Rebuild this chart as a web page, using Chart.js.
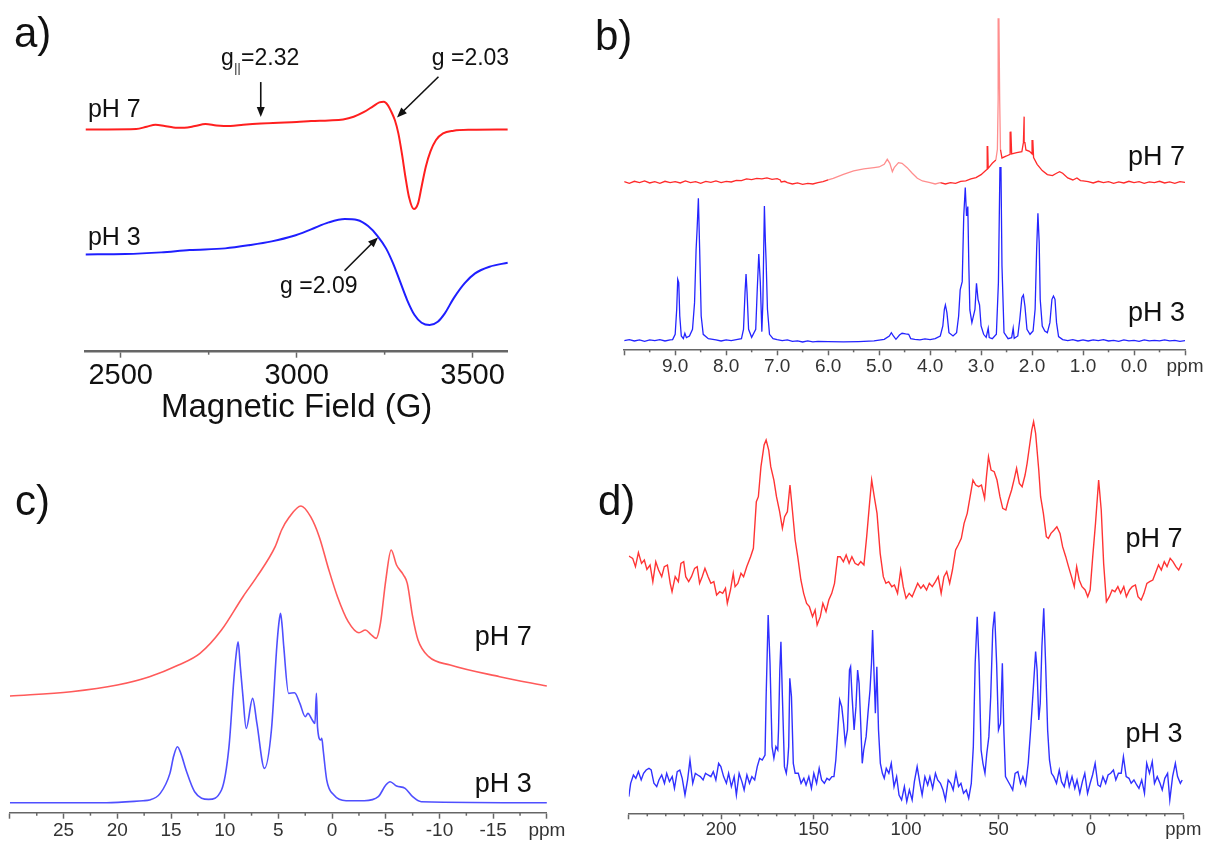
<!DOCTYPE html>
<html><head><meta charset="utf-8">
<script src="https://cdn.jsdelivr.net/npm/chart.js@4.4.0/dist/chart.umd.min.js"></script>
<style>
html,body{margin:0;padding:0;background:#fff;}
#wrap{position:relative;width:1207px;height:845px;overflow:hidden;background:#fff;}
canvas{position:absolute;left:0;top:0;}
</style></head><body><div id="wrap">
<canvas id="ca" width="1207" height="845"></canvas>
<canvas id="cb" width="1207" height="845"></canvas>
<canvas id="cc" width="1207" height="845"></canvas>
<canvas id="cd" width="1207" height="845"></canvas>
</div>
<script>
// ---------- DATA ----------
// a) EPR spectra: [field (G), intensity (a.u.)]
const epr_pH7 = [[2400,66.7],[2462,66.7],[2544,66.8],[2574,67.5],[2599,68.1],[2625,67.7],[2650,67.3],[2681,67.2],[2711,67.7],[2741,68.3],[2772,67.9],[2812,67.7],[2848,68.1],[2899,68.5],[2949,68.7],[3000,68.9],[3041,69.2],[3091,69.4],[3132,69.7],[3162,70.5],[3193,72.0],[3218,73.7],[3235,74.8],[3248,75.0],[3259,74.0],[3269,72.0],[3279,69.5],[3289,65.5],[3299,59.5],[3309,52.5],[3319,46.5],[3333,42.8],[3345,44.5],[3355,49.5],[3367,55.5],[3380,60.0],[3396,63.5],[3416,65.5],[3446,66.3],[3497,66.6],[3600,66.7]];
const epr_pH3 = [[2400,29.2],[2513,29.3],[2615,29.8],[2696,30.5],[2797,31.0],[2868,32.0],[2929,33.1],[2990,34.7],[3041,36.7],[3091,38.8],[3137,39.8],[3172,39.5],[3203,37.7],[3230,34.7],[3254,31.0],[3274,26.5],[3294,21.0],[3314,15.5],[3335,11.0],[3355,8.7],[3378,8.0],[3401,9.0],[3421,11.5],[3446,16.0],[3477,20.5],[3507,23.5],[3548,25.5],[3600,26.7]];
const eprMajorTicks = [2500,3000,3500];
const eprMinorTicks = [2750,3250];

// b) 1H NMR: [ppm, intensity]
const h1_pH7 = [[10.0,50.3],[9.9,49.8],[9.8,50.4],[9.7,50.0],[9.6,50.5],[9.5,49.9],[9.4,50.3],[9.3,49.8],[9.2,50.4],[9.1,50.0],[9.0,50.3],[8.9,49.9],[8.8,50.5],[8.7,50.0],[8.6,50.3],[8.5,49.8],[8.4,50.4],[8.3,50.1],[8.2,50.5],[8.1,50.0],[8.0,50.4],[7.9,50.2],[7.8,50.7],[7.7,50.6],[7.6,51.1],[7.5,50.9],[7.4,51.3],[7.3,51.1],[7.2,51.4],[7.1,51.0],[7.0,51.2],[6.94,50.8],[6.92,50.2],[6.85,50.4],[6.8,50.0],[6.7,49.6],[6.6,49.9],[6.5,49.5],[6.4,49.8],[6.3,49.6],[6.2,50.0],[6.1,50.3],[6.0,50.8],[5.9,51.3],[5.7,52.5],[5.5,53.5],[5.3,54.1],[5.1,54.5],[5.0,54.7],[4.9,55.5],[4.84,57.0],[4.79,55.8],[4.74,53.3],[4.7,54.6],[4.62,56.0],[4.55,55.8],[4.45,54.5],[4.35,52.8],[4.25,51.3],[4.15,50.5],[4.0,50.0],[3.9,49.6],[3.8,50.0],[3.7,49.6],[3.6,50.0],[3.5,49.8],[3.4,50.4],[3.3,50.5],[3.2,51.1],[3.1,51.5],[3.0,52.4],[2.92,53.5],[2.88,54.0],[2.87,61.0],[2.86,54.3],[2.78,55.8],[2.71,56.8],[2.68,60],[2.665,75],[2.65,99.3],[2.635,75],[2.62,60],[2.59,57.4],[2.5,58.0],[2.43,58.5],[2.415,65.3],[2.40,58.6],[2.3,59.0],[2.2,59.3],[2.17,62],[2.155,69.8],[2.14,62],[2.12,59.8],[2.05,59.4],[2.0,58.6],[1.985,62.8],[1.97,57.5],[1.9,55.5],[1.8,53.6],[1.7,52.4],[1.6,52.1],[1.52,52.8],[1.46,53.3],[1.4,52.8],[1.3,51.4],[1.2,50.8],[1.12,51.4],[1.05,50.6],[1.0,50.5],[0.9,50.3],[0.8,49.9],[0.7,50.4],[0.6,50.0],[0.5,50.3],[0.4,49.8],[0.3,50.2],[0.2,49.9],[0.1,50.4],[0.0,50.0],[-0.1,50.3],[-0.2,49.8],[-0.3,50.2],[-0.4,50.0],[-0.5,50.4],[-0.6,49.9],[-0.7,50.2],[-0.8,49.8],[-0.9,50.3],[-1.0,50.1]];
const h1_pH3 = [[10.0,2.6],[9.9,2.9],[9.8,2.5],[9.7,2.8],[9.6,2.4],[9.5,2.8],[9.4,2.6],[9.3,2.9],[9.2,2.5],[9.1,2.8],[9.05,2.9],[9.0,4.5],[8.97,12],[8.95,21],[8.93,20],[8.91,10],[8.88,4],[8.84,3.2],[8.81,4.8],[8.78,3.5],[8.72,4.0],[8.66,6],[8.62,14],[8.59,29.8],[8.57,36],[8.545,45.3],[8.52,30],[8.49,10],[8.45,4.5],[8.35,3.2],[8.2,2.8],[8.1,2.5],[8.0,2.8],[7.9,2.6],[7.8,2.9],[7.7,3.2],[7.66,6],[7.63,17],[7.61,22.6],[7.59,17],[7.56,6],[7.5,3.6],[7.42,6],[7.39,18],[7.36,28.6],[7.33,20],[7.30,5.3],[7.28,14],[7.25,43],[7.23,32],[7.215,25.8],[7.19,12],[7.15,4.5],[7.08,3.2],[7.0,2.9],[6.9,2.6],[6.8,2.8],[6.7,2.4],[6.6,2.5],[6.5,2.2],[6.4,2.5],[6.3,2.2],[6.2,2.4],[6.0,2.3],[5.7,2.2],[5.4,2.3],[5.1,2.5],[4.9,3.0],[4.8,4.0],[4.76,5.0],[4.72,4.0],[4.67,3.0],[4.6,4.3],[4.55,4.8],[4.48,4.6],[4.42,4.5],[4.38,3.2],[4.3,3.0],[4.2,2.8],[4.1,3.1],[4.0,2.9],[3.9,3.2],[3.8,4.0],[3.75,7],[3.72,12],[3.70,13.3],[3.67,11],[3.63,5],[3.55,4.0],[3.48,5],[3.44,10],[3.41,17.8],[3.37,20.3],[3.34,40],[3.31,48.5],[3.285,40],[3.26,42.8],[3.24,25],[3.22,11.8],[3.18,8],[3.12,12],[3.09,19.8],[3.06,15],[3.03,13.3],[3.0,7],[2.95,4.5],[2.9,3.6],[2.86,6.3],[2.84,3.5],[2.78,3.2],[2.7,4.5],[2.66,20],[2.63,54.5],[2.61,54.5],[2.59,25],[2.55,5],[2.47,3.2],[2.4,3.5],[2.37,6.3],[2.35,3.3],[2.28,4.0],[2.24,9],[2.20,15.5],[2.17,16.3],[2.14,13],[2.10,6],[2.04,4.5],[1.98,5.5],[1.94,12],[1.91,30],[1.885,40.8],[1.86,32],[1.84,15],[1.8,7],[1.75,5.5],[1.7,5.0],[1.65,8],[1.61,15],[1.58,16],[1.55,15],[1.52,8],[1.48,3.8],[1.4,2.9],[1.3,2.6],[1.2,2.9],[1.1,2.5],[1.0,2.8],[0.9,2.5],[0.8,2.8],[0.7,2.6],[0.6,2.9],[0.5,2.5],[0.4,2.7],[0.3,2.4],[0.2,2.8],[0.1,2.5],[0.0,2.7],[-0.1,2.4],[-0.2,2.8],[-0.3,2.5],[-0.4,2.7],[-0.5,2.5],[-0.6,2.8],[-0.7,2.5],[-0.8,2.7],[-0.9,2.4],[-1.0,2.6]];
const h1MajorTicks = [10,9,8,7,6,5,4,3,2,1,0,-1];
const h1MinorTicks = [9.5,8.5,7.5,6.5,5.5,4.5,3.5,2.5,1.5,0.5,-0.5];

// c) NMR: [ppm, intensity]
const nmrC_pH7 = [[30,35.0],[24.3,36.3],[20,38.3],[17,40.8],[14.3,44.3],[12.3,47.8],[10.3,54.8],[8.3,64.8],[7.0,70.8],[5.3,79.8],[4.7,84.8],[4.0,88.6],[2.9,92.0],[2.0,88.8],[1.2,82.8],[0.3,72.8],[-0.5,64.8],[-1.5,57.3],[-2.5,54.0],[-3.1,54.8],[-3.6,53.5],[-4.1,52.3],[-4.5,56.8],[-5.0,69.8],[-5.5,78.8],[-6.0,74.3],[-6.65,71.3],[-7.0,68.8],[-7.5,58.8],[-8.0,51.8],[-9.0,46.8],[-11.0,44.3],[-15.6,40.8],[-20,38.0]];
const nmrC_pH3 = [[30,3.0],[21,3.0],[17.6,3.6],[17,3.8],[16,5.8],[15.1,11.8],[14.75,17.0],[14.4,19.8],[14.05,17.5],[13.6,12.8],[12.8,6.3],[11.5,4.0],[10.3,6.8],[9.6,19.8],[9.15,39.8],[8.95,47],[8.75,51.3],[8.55,44],[8.3,34.8],[8.0,25.3],[7.4,34.3],[7.0,26.8],[6.3,13.3],[5.65,24.8],[5.15,49.8],[4.95,57],[4.8,59.8],[4.65,56],[4.5,49.8],[4.05,35.8],[3.5,36.0],[3.0,32.8],[2.5,28.8],[2.25,29.8],[1.85,27.8],[1.6,26.8],[1.46,35.8],[1.36,25.8],[1.06,21.8],[0.96,22.3],[0.83,18.8],[0.5,9.8],[-0.17,5.3],[-1.3,3.6],[-3,3.6],[-4.3,4.8],[-5.0,8.3],[-5.4,9.3],[-6.0,8.0],[-6.8,7.3],[-7.5,4.8],[-8.3,3.3],[-20,3.0]];
const nmrCMajorTicks = [30,25,20,15,10,5,0,-5,-10,-15,-20];
const nmrCMinorTicks = [27.5,22.5,17.5,12.5,7.5,2.5,-2.5,-7.5,-12.5,-17.5];

// d) NMR: [ppm, intensity]
const nmrD_pH7 = [[250.0,77.2],[247.9,76.5],[246.4,74.0],[244.8,78.2],[243.1,75.0],[241.6,76.0],[240.2,73.2],[238.5,74.5],[237.0,69.5],[235.4,75.5],[233.9,73.0],[232.2,71.0],[230.8,74.0],[229.1,74.5],[227.6,69.0],[226.6,66.5],[224.9,71.0],[223.2,69.5],[221.8,75.0],[220.3,75.5],[219.2,71.0],[217.6,69.5],[216.1,71.0],[214.4,73.5],[213.0,74.0],[211.7,69.0],[210.3,71.0],[208.8,73.5],[207.1,71.0],[205.6,69.0],[204.0,69.5],[202.5,65.5],[200.8,66.5],[199.2,66.0],[197.7,67.5],[196.7,63.0],[195.0,67.0],[193.5,72.0],[192.5,68.0],[191.0,69.0],[189.3,72.0],[187.9,71.0],[186.2,74.0],[184.1,77.0],[182.6,79.5],[181.0,93.5],[179.9,95.0],[178.5,104.0],[176.8,110.5],[175.7,112.0],[174.3,109.0],[173.2,104.0],[171.5,100.0],[170.1,95.0],[168.4,90.5],[166.9,85.5],[165.7,89.0],[164.2,90.5],[162.8,98.5],[161.5,91.0],[160.0,82.0],[158.6,77.0],[156.9,70.0],[155.4,66.0],[153.8,63.0],[152.3,62.0],[150.6,59.0],[149.2,61.0],[148.1,56.5],[146.4,59.0],[145.0,63.0],[143.3,60.5],[141.8,64.0],[140.2,66.0],[138.7,69.0],[137.0,77.0],[135.6,77.0],[133.9,75.5],[132.4,77.5],[130.8,75.0],[129.3,77.0],[127.6,75.0],[125.9,74.5],[124.5,75.5],[122.8,74.5],[121.3,83.0],[119.9,92.0],[118.6,100.0],[117.2,95.0],[115.7,90.0],[114.0,78.0],[112.3,71.0],[110.9,69.0],[109.4,69.5],[107.7,68.0],[106.3,68.5],[104.6,66.0],[102.9,73.0],[101.5,68.0],[100.0,64.5],[98.3,66.0],[96.7,65.0],[95.2,67.0],[93.7,69.0],[92.0,67.5],[90.6,68.5],[88.9,67.0],[87.4,69.0],[85.8,68.0],[84.1,69.5],[82.6,71.0],[81.0,66.0],[79.5,71.0],[78.0,72.5],[76.4,69.0],[74.9,73.0],[73.2,79.0],[71.8,80.5],[70.1,82.5],[68.6,87.0],[66.9,90.0],[65.5,94.5],[63.8,100.0],[62.3,98.5],[60.7,98.0],[59.2,98.5],[57.5,94.5],[56.5,101.0],[55.4,107.0],[54.0,103.0],[52.3,102.5],[50.8,100.0],[49.2,95.0],[47.7,91.5],[46.0,91.0],[44.6,94.0],[42.9,97.0],[41.4,100.5],[40.2,103.5],[38.7,99.0],[37.2,98.0],[35.6,101.5],[34.5,105.0],[33.5,109.0],[32.0,115.0],[31.0,117.5],[29.9,114.0],[28.2,103.0],[27.2,95.0],[25.7,90.0],[24.1,83.0],[23.0,82.5],[21.6,84.0],[19.9,85.0],[18.4,86.0],[16.7,84.0],[15.3,80.0],[13.6,77.0],[12.1,74.0],[10.5,71.0],[9.0,68.0],[7.7,74.0],[6.3,70.0],[4.8,68.0],[3.1,67.0],[1.7,65.0],[0.4,67.0],[-1.0,77.0],[-2.5,87.0],[-4.2,100.0],[-5.6,91.0],[-6.9,75.0],[-8.4,63.5],[-10.0,65.0],[-11.5,67.0],[-13.0,66.5],[-14.6,68.0],[-16.1,66.0],[-17.8,68.0],[-19.2,65.0],[-20.9,67.0],[-22.4,68.0],[-24.1,68.5],[-25.5,65.0],[-27.2,64.0],[-28.7,66.0],[-30.3,69.0],[-31.8,69.5],[-33.5,70.0],[-34.9,72.0],[-36.6,74.5],[-38.1,73.0],[-39.7,75.5],[-41.2,74.0],[-42.9,76.5],[-44.4,75.5],[-46.0,74.0],[-47.5,73.0],[-49.2,75.0]];
const nmrD_pH3 = [[250.0,5.0],[249.0,9.0],[247.5,11.5],[246.2,10.5],[244.8,12.5],[243.3,10.0],[242.0,12.0],[240.6,13.0],[239.1,13.5],[237.9,13.0],[236.4,9.0],[234.9,8.0],[233.7,10.0],[232.2,11.5],[230.7,9.0],[229.5,12.0],[228.0,9.5],[226.5,11.0],[225.3,7.5],[223.8,12.5],[222.4,13.0],[221.1,10.5],[219.6,5.5],[218.2,10.0],[216.9,16.0],[215.4,9.0],[214.0,12.0],[212.7,11.5],[211.3,11.0],[209.8,10.0],[208.5,12.0],[207.1,11.5],[205.6,11.0],[204.3,12.5],[202.9,10.0],[201.4,15.0],[200.2,14.0],[198.7,11.0],[197.2,9.0],[196.0,12.0],[194.5,8.0],[193.0,11.0],[191.8,5.5],[190.3,12.0],[188.8,9.5],[187.6,7.0],[186.1,11.5],[184.7,9.0],[183.4,11.0],[181.9,10.0],[180.5,14.0],[179.2,16.5],[177.8,16.0],[176.3,17.5],[175.7,35.0],[174.6,59.5],[173.6,45.0],[172.5,20.0],[171.5,16.5],[170.4,20.0],[169.4,19.0],[169.0,25.0],[168.3,43.0],[167.7,51.5],[166.9,35.0],[165.8,14.0],[164.8,12.0],[164.1,15.0],[163.5,20.0],[162.9,40.5],[162.0,35.0],[161.0,15.0],[160.0,12.0],[158.3,12.0],[156.8,9.0],[155.3,10.5],[154.1,8.5],[152.6,11.0],[151.2,7.5],[149.9,12.0],[148.4,9.0],[147.0,13.5],[145.7,10.0],[144.2,9.0],[142.8,10.5],[141.5,10.0],[140.1,11.0],[139.0,11.0],[138.0,16.0],[136.9,25.0],[135.9,34.0],[134.8,32.0],[133.8,27.0],[132.9,21.0],[131.7,25.0],[130.6,43.0],[130.0,44.0],[129.2,35.0],[128.1,25.0],[127.1,32.0],[126.2,43.0],[125.4,39.0],[124.6,28.0],[123.7,15.0],[122.9,19.0],[121.6,23.0],[120.6,30.0],[119.5,37.0],[118.7,45.0],[118.1,55.0],[117.2,40.0],[116.6,30.0],[115.8,44.0],[114.9,25.0],[113.9,15.0],[112.8,12.0],[111.8,10.5],[110.7,13.5],[109.3,12.0],[108.0,15.0],[106.5,8.0],[105.1,11.0],[103.8,5.5],[102.4,4.0],[100.9,8.0],[99.6,3.5],[98.2,7.0],[96.7,4.0],[95.5,9.5],[94.0,14.0],[92.5,9.0],[91.3,5.5],[89.8,11.0],[88.3,8.5],[87.1,11.0],[85.6,7.5],[84.1,12.0],[82.9,10.0],[81.4,9.0],[80.0,7.0],[78.7,4.0],[77.2,10.0],[75.8,9.0],[74.5,7.0],[73.0,12.0],[71.6,8.0],[70.3,9.0],[68.9,6.0],[67.4,7.0],[66.1,4.5],[64.7,9.0],[63.6,20.0],[62.6,45.0],[61.5,59.0],[60.5,45.0],[59.4,19.0],[58.4,15.0],[57.3,12.0],[56.3,18.0],[55.2,23.0],[54.2,35.0],[53.1,55.0],[52.1,60.5],[51.0,45.0],[50.0,25.0],[48.9,27.0],[47.9,45.0],[47.1,25.0],[46.2,11.0],[45.2,10.0],[43.7,8.5],[42.3,7.0],[41.0,12.0],[39.5,12.5],[38.1,9.0],[36.8,11.0],[35.3,8.5],[33.9,15.0],[32.6,25.0],[31.2,37.0],[29.9,48.5],[29.1,43.0],[28.2,28.0],[27.4,33.0],[26.5,50.0],[25.5,61.5],[24.5,45.0],[23.4,25.0],[22.4,16.0],[21.3,12.0],[20.1,11.0],[18.6,9.0],[17.1,13.0],[15.9,9.5],[14.4,8.0],[12.9,12.0],[11.7,8.0],[10.2,11.0],[8.7,7.5],[7.5,10.0],[6.0,6.0],[4.6,9.5],[3.3,12.0],[1.8,6.0],[0.4,9.0],[-0.9,11.5],[-2.3,15.0],[-3.8,8.5],[-5.1,8.0],[-6.5,11.0],[-8.0,9.0],[-9.3,11.5],[-10.7,12.0],[-12.2,13.0],[-13.5,10.0],[-14.9,12.0],[-16.4,12.0],[-17.6,17.0],[-19.1,11.0],[-20.6,10.5],[-21.8,9.0],[-23.3,10.0],[-24.8,8.5],[-26.0,7.5],[-27.5,10.0],[-29.0,6.0],[-30.2,15.0],[-31.7,12.0],[-33.2,15.5],[-34.4,9.0],[-35.9,11.0],[-37.4,9.0],[-38.6,7.0],[-40.0,10.5],[-41.5,12.0],[-42.7,4.0],[-44.2,11.0],[-45.7,15.0],[-46.9,11.0],[-48.4,9.0],[-49.4,10.0]];
const nmrDMajorTicks = [250,200,150,100,50,0,-50];
const nmrDMinorTicks = [240,230,220,210,190,180,170,160,140,130,120,110,90,80,70,60,40,30,20,10,-10,-20,-30,-40];

// ---------- RENDERING ----------
const FONT = '"Liberation Sans", Arial, Helvetica, sans-serif';
Chart.defaults.font.family = FONT;

function toXY(arr){ return arr.slice().sort((a,b)=>a[0]-b[0]).map(p=>({x:p[0], y:p[1]})); }

function drawArrow(ctx, x1, y1, x2, y2){
  const ang = Math.atan2(y2-y1, x2-x1), L = 10, W = 4;
  ctx.beginPath(); ctx.moveTo(x1,y1);
  ctx.lineTo(x2 - Math.cos(ang)*L*0.8, y2 - Math.sin(ang)*L*0.8); ctx.stroke();
  ctx.beginPath(); ctx.moveTo(x2,y2);
  ctx.lineTo(x2 - Math.cos(ang)*L + Math.sin(ang)*W, y2 - Math.sin(ang)*L - Math.cos(ang)*W);
  ctx.lineTo(x2 - Math.cos(ang)*L - Math.sin(ang)*W, y2 - Math.sin(ang)*L + Math.cos(ang)*W);
  ctx.closePath(); ctx.fill();
}

function makePanel(id, p){
  const plugin = {
    id: 'deco_'+id,
    afterDraw(chart){
      const ctx = chart.ctx, xs = chart.scales.x, ys = chart.scales.y, yb = chart.chartArea.bottom;
      ctx.save();
      ctx.strokeStyle = p.axisColor; ctx.lineWidth = 1.5;
      p.minor.forEach(v=>{ const px = xs.getPixelForValue(v); ctx.beginPath(); ctx.moveTo(px, yb); ctx.lineTo(px, yb+p.minorLen); ctx.stroke(); });
      ctx.fillStyle = '#111'; ctx.strokeStyle = '#111'; ctx.lineWidth = 1.6;
      ctx.textBaseline = 'alphabetic';
      (p.texts||[]).forEach(t=>{
        ctx.font = t.size+'px '+FONT; ctx.textAlign = t.align || 'left';
        const X = xs.getPixelForValue(t.x), Y = ys.getPixelForValue(t.y);
        if (t.sub){
          ctx.textAlign = 'left';
          ctx.fillText(t.pre, X, Y);
          let w = ctx.measureText(t.pre).width;
          ctx.font = Math.round(t.size*0.5)+'px '+FONT;
          ctx.fillText(t.sub, X+w+0.5, Y+7);
          w += ctx.measureText(t.sub).width + 1;
          ctx.font = t.size+'px '+FONT;
          ctx.fillText(t.text, X+w, Y);
        } else ctx.fillText(t.text, X, Y);
      });
      (p.arrows||[]).forEach(a=>{
        drawArrow(ctx, xs.getPixelForValue(a.x1), ys.getPixelForValue(a.y1), xs.getPixelForValue(a.x2), ys.getPixelForValue(a.y2));
      });
      ctx.font = '42px '+FONT; ctx.textAlign = 'left'; ctx.fillStyle = '#111';
      ctx.fillText(p.panel.text, p.panel.left, p.panel.base);
      ctx.restore();
    }
  };
  return new Chart(document.getElementById(id), {
    type: 'line',
    data: { datasets: p.series.map(s=>({
      data: toXY(s.data), borderColor: s.color, borderWidth: s.width, pointRadius: 0,
      tension: s.smooth ? 0.4 : 0, cubicInterpolationMode: s.smooth ? 'monotone' : 'default',
      fill: false, segment: s.segment || {}
    }))},
    options: {
      responsive: false, animation: false, devicePixelRatio: 1,
      layout: { padding: p.pad },
      plugins: { legend: {display:false}, tooltip: {enabled:false} },
      scales: {
        x: {
          type: 'linear', min: p.xmin, max: p.xmax, reverse: !!p.reverse,
          afterBuildTicks: s=>{ s.ticks = p.major.map(v=>({value:v})); },
          afterFit: s=>{ s.height = p.axisH; },
          ticks: { autoSkip:false, maxRotation:0, callback: p.fmt, color: p.tickColor, padding: p.tickPad, font: {size: p.tickSize, family: FONT} },
          grid: { drawOnChartArea:false, drawTicks:true, tickLength: 6, tickColor: p.axisColor, tickWidth: 1.5, color: p.axisColor },
          border: { display:true, color: p.axisColor, width: p.axisW },
          title: p.title || {display:false}
        },
        y: { display:false, min: 0, max: p.ymax }
      }
    },
    plugins: [plugin]
  });
}

// a) EPR
makePanel('ca', {
  series: [
    {data: epr_pH7, color:'#ff1f1f', width:2, smooth:true},
    {data: epr_pH3, color:'#1f1fff', width:2, smooth:true}
  ],
  xmin:2400, xmax:3600, ymax:100,
  pad:{left:85.5, right:699.2, top:18.4, bottom:403.3}, axisH:90,
  major: eprMajorTicks, minor: eprMinorTicks, minorLen:3,
  fmt: v=>String(v), tickColor:'#111', tickSize:29, tickPad:1,
  axisColor:'#666', axisW:2.5,
  title:{display:true, text:'Magnetic Field (G)', color:'#111', font:{size:33, family:FONT}, padding:{top:0,bottom:14}},
  texts:[
    {text:'pH 7', x:2407, y:70.4, size:25},
    {text:'pH 3', x:2407, y:32, size:25},
    {pre:'g', sub:'||', text:'=2.32', x:2785, y:86, size:23},
    {text:'g =2.03', x:3384, y:86, size:23},
    {text:'g =2.09', x:2953, y:17.6, size:23}
  ],
  arrows:[
    {x1:2898, y1:80.9, x2:2898, y2:70.4},
    {x1:3403, y1:82.5, x2:3285, y2:70.3},
    {x1:3136, y1:24.3, x2:3231, y2:34.3}
  ],
  panel:{text:'a)', left:14, base:47}
});

// b) 1H NMR
makePanel('cb', {
  series: [
    {data: h1_pH7, color:'#ff2a2a', width:1.3, segment:{borderColor: c=>{ const x=c.p0.parsed.x; return ((x<6.0&&x>3.7)||(x<2.7&&x>2.6)) ? '#ff8e8e' : undefined; }}},
    {data: h1_pH3, color:'#2424ff', width:1.3}
  ],
  xmin:-1, xmax:10, reverse:true, ymax:102,
  pad:{left:624.2, right:22, top:9.3, bottom:455.7}, axisH:40,
  major: h1MajorTicks, minor: h1MinorTicks, minorLen:3,
  fmt: v=> v===10 ? '' : (v===-1 ? 'ppm' : v.toFixed(1)), tickColor:'#333', tickSize:19, tickPad:0,
  axisColor:'#666', axisW:1.5,
  texts:[
    {text:'pH 7', x:-1, y:55.4, size:27, align:'right'},
    {text:'pH 3', x:-1, y:8.4, size:27, align:'right'}
  ],
  panel:{text:'b)', left:595, base:50}
});

// c) NMR
makePanel('cc', {
  series: [
    {data: nmrC_pH7, color:'#ff5a5a', width:1.6, smooth:true},
    {data: nmrC_pH3, color:'#4f4fff', width:1.6, smooth:true}
  ],
  xmin:-20, xmax:30, reverse:true, ymax:110,
  pad:{left:9.9, right:660.1, top:446, bottom:0}, axisH:32.3,
  major: nmrCMajorTicks, minor: nmrCMinorTicks, minorLen:3,
  fmt: v=> v===30 ? '' : (v===-20 ? 'ppm' : String(v)), tickColor:'#333', tickSize:19, tickPad:1,
  axisColor:'#666', axisW:1.5,
  texts:[
    {text:'pH 7', x:-18.6, y:50.3, size:27, align:'right'},
    {text:'pH 3', x:-18.6, y:6.3, size:27, align:'right'}
  ],
  panel:{text:'c)', left:15, base:515}
});

// d) NMR
makePanel('cd', {
  series: [
    {data: nmrD_pH7, color:'#ff3434', width:1.4},
    {data: nmrD_pH3, color:'#3030ff', width:1.4}
  ],
  xmin:-50, xmax:250, reverse:true, ymax:122,
  pad:{left:628.8, right:23.7, top:406.7, bottom:0}, axisH:31.7,
  major: nmrDMajorTicks, minor: nmrDMinorTicks, minorLen:3,
  fmt: v=> v===250 ? '' : (v===-50 ? 'ppm' : String(v)), tickColor:'#333', tickSize:18.5, tickPad:0,
  axisColor:'#666', axisW:1.5,
  texts:[
    {text:'pH 7', x:-49.6, y:80, size:27, align:'right'},
    {text:'pH 3', x:-49.6, y:21.5, size:27, align:'right'}
  ],
  panel:{text:'d)', left:598, base:515}
});
</script>
</body></html>
